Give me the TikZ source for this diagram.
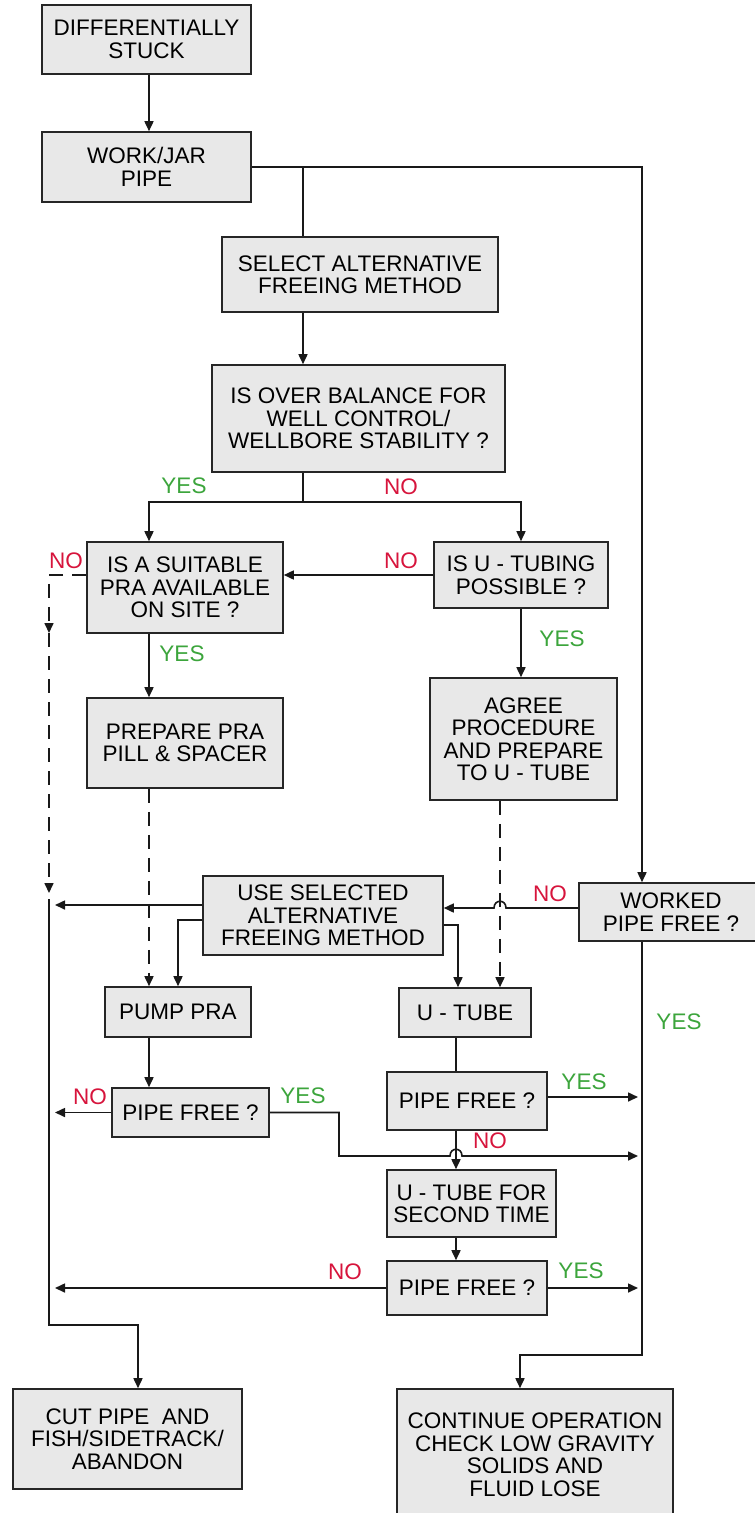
\documentclass[tikz,border=0pt]{standalone}
\usepackage{fontspec}
\setmainfont{Liberation Sans}
\usetikzlibrary{arrows.meta}
\definecolor{boxfill}{RGB}{232,232,232}
\definecolor{nored}{RGB}{215,20,60}
\definecolor{yesgreen}{RGB}{60,165,60}
\tikzset{
  box/.style={draw=black!85, line width=1.6pt, fill=boxfill, inner sep=0pt, align=center,
    font=\fontsize{22.5}{22.5}\selectfont},
  ln/.style={line width=1.6pt, black!90},
  arr/.style={ln, -{Triangle[length=10pt,width=9pt]}},
  dl/.style={dash pattern=on 14pt off 9pt},
  yes/.style={text=yesgreen, inner sep=0pt, font=\fontsize{22.5}{22.5}\selectfont},
  no/.style={text=nored, inner sep=0pt, font=\fontsize{22.5}{22.5}\selectfont}
}
\begin{document}
\begin{tikzpicture}[x=1pt,y=-1pt]
\useasboundingbox (0,0) rectangle (755,1513);
\clip (0,0) rectangle (755,1513);
\fill[white] (0,0) rectangle (755,1513);

% columns
\coordinate (cL) at (149,0);
\coordinate (cM) at (303,0);
\coordinate (cR) at (642,0);
\coordinate (cRa) at (638,0);
\coordinate (cU) at (520,0);
\coordinate (cD) at (500,0);
\coordinate (cT) at (456,0);
\coordinate (cT2) at (458,0);
\coordinate (cC) at (138,0);
\coordinate (wL) at (55,0);

% boxes
\node[box, minimum width=209pt, minimum height=69pt] (B1) at (146.5,39.5) {DIFFERENTIALLY\\STUCK};
\node[box, minimum width=209pt, minimum height=70pt] (B2) at (146.5,167) {WORK/JAR\\PIPE};
\node[box, minimum width=276pt, minimum height=75pt] (B3) at (360,274.5) {SELECT ALTERNATIVE\\FREEING METHOD};
\node[box, minimum width=293pt, minimum height=107pt] (B4) at (358.5,418.5) {IS OVER BALANCE FOR\\WELL CONTROL/\\WELLBORE STABILITY ?};
\node[box, minimum width=196pt, minimum height=91pt] (B5) at (185,587.5) {IS A SUITABLE\\PRA AVAILABLE\\ON SITE ?};
\node[box, minimum width=174pt, minimum height=66pt] (B6) at (521,575) {IS U - TUBING\\POSSIBLE ?};
\node[box, minimum width=196pt, minimum height=90pt] (B7) at (185,743) {PREPARE PRA\\PILL \& SPACER};
\node[box, minimum width=187pt, minimum height=122pt] (B8) at (523.5,739) {AGREE\\PROCEDURE\\AND PREPARE\\TO U - TUBE};
\node[box, minimum width=240pt, minimum height=79pt] (B9) at (323,915.5) {USE SELECTED\\ALTERNATIVE\\FREEING METHOD};
\node[box, minimum width=184pt, minimum height=58pt] (B10) at (671,912) {WORKED\\PIPE FREE ?};
\node[box, minimum width=146pt, minimum height=50pt] (B11) at (178,1012) {PUMP PRA};
\node[box, minimum width=132pt, minimum height=49pt] (B12) at (465,1012.5) {U - TUBE};
\node[box, minimum width=157pt, minimum height=49pt] (B13) at (190.5,1112.5) {PIPE FREE ?};
\node[box, minimum width=160pt, minimum height=58pt] (B14) at (467,1101) {PIPE FREE ?};
\node[box, minimum width=169pt, minimum height=67pt] (B15) at (471.5,1203.5) {U - TUBE FOR\\SECOND TIME};
\node[box, minimum width=160pt, minimum height=54pt] (B16) at (467,1288) {PIPE FREE ?};
\node[box, minimum width=229pt, minimum height=100pt] (B17) at (127.5,1439) {CUT PIPE\ \ AND\\FISH/SIDETRACK/\\ABANDON};
\node[box, minimum width=276pt, minimum height=131pt] (B18) at (535,1454.5) {CONTINUE OPERATION\\CHECK LOW GRAVITY\\SOLIDS AND\\FLUID LOSE};

% helper coordinates
\coordinate (split) at (303,502);
\coordinate (dA) at (49,633);
\coordinate (dB) at (49,893);
\coordinate (wTop) at (49,899);
\coordinate (wBot) at (49,1325);
\coordinate (rBot) at (642,1355);

% connectors
\draw[arr] (B1.south -| cL) -- (B2.north -| cL);
\draw[arr] (B2.east) -| (B10.north -| cR);
\draw[ln] (B2.east -| cM) -- (B3.north -| cM);
\draw[arr] (B3.south -| cM) -- (B4.north -| cM);
\draw[ln] (B4.south -| cM) -- (split);
\draw[arr] (split) -| (B5.north -| cL);
\draw[arr] (split) -| (B6.north);
\draw[arr] (B6.west) -- (B6.west -| B5.east);
\draw[arr, dl] (B5.west |- B6.west) -| (dA);
\draw[arr, dl] (dA) -- (dB);
\draw[arr] (B5.south -| cL) -- (B7.north -| cL);
\draw[arr] (B6.south) -- (B8.north -| B6.south);
\draw[arr, dl] (B7.south -| cL) -- (B11.north -| cL);
\draw[arr, dl] (B8.south -| cD) -- (B12.north -| cD);

\draw[arr] (wTop) -- (wBot) -| (B17.north -| cC);
\draw[arr] (B9.west |- 0,905) -- (wL |- 0,905);
\draw[arr] (B9.west |- 0,920) -| (B11.north);
\draw[arr] (B9.east |- 0,925) -| (B12.north -| cT2);
\draw[arr] (B10.west |- 0,908) -- (506,908) .. controls (506,899) and (494,899) .. (494,908) -- (B9.east |- 0,908);
\draw[arr] (B10.south -| cR) -- (rBot) -| (B18.north -| cU);

\draw[arr] (B11.south -| cL) -- (B13.north -| cL);
\draw[arr] (B13.west) -- (B13.west -| wL);
\draw[arr] (B13.east) -- (339,1112.5) -- (339,1156) -- (450,1156) .. controls (450,1147) and (462,1147) .. (462,1156) -- (cRa |- 0,1156);
\draw[ln] (B12.south -| cT) -- (B14.north -| cT);
\draw[arr] (B14.east |- 0,1097) -- (cRa |- 0,1097);
\draw[arr] (B14.south -| cT) -- (B15.north -| cT);
\draw[arr] (B15.south -| cT) -- (B16.north -| cT);
\draw[arr] (B16.east) -- (B16.east -| cRa);
\draw[arr] (B16.west) -- (B16.west -| wL);

% labels
\node[yes] (l1) at (184,486) {YES};
\node[no] (l2) at (401,487) {NO};
\node[no] (l3) at (401,561) {NO};
\node[no] (l4) at (66,561) {NO};
\node[yes] (l5) at (182,654) {YES};
\node[yes] (l6) at (562,639) {YES};
\node[no] (l7) at (550,894) {NO};
\node[yes] (l8) at (679,1022) {YES};
\node[no] (l9) at (90,1097) {NO};
\node[yes] (l10) at (303,1096) {YES};
\node[yes] (l11) at (584,1082) {YES};
\node[no] (l12) at (490,1141) {NO};
\node[no] (l13) at (345,1272) {NO};
\node[yes] (l14) at (581,1271) {YES};
\end{tikzpicture}
\end{document}
